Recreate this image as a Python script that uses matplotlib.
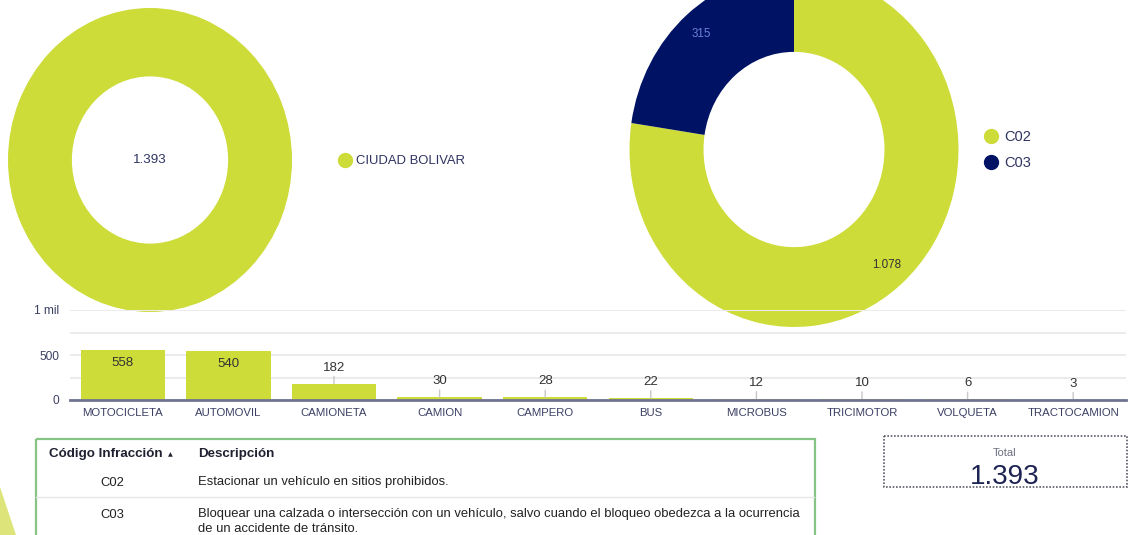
import matplotlib
matplotlib.use("Agg")
import matplotlib.pyplot as plt
from matplotlib.lines import Line2D
from matplotlib.patches import Rectangle, Polygon

plt.rcParams['font.family'] = ['Liberation Sans', 'DejaVu Sans']

# ---------------- data ----------------
localidades = ["CIUDAD BOLIVAR"]
localidad_values = [1393]

codigos = ["C02", "C03"]
codigo_values = [1078, 315]

vehiculos = ["MOTOCICLETA", "AUTOMOVIL", "CAMIONETA", "CAMION", "CAMPERO",
             "BUS", "MICROBUS", "TRICIMOTOR", "VOLQUETA", "TRACTOCAMION"]
vehiculo_values = [558, 540, 182, 30, 28, 22, 12, 10, 6, 3]

y_ticks = [0, 500, 1000]
y_tick_labels = ["0", "500", "1 mil"]

tabla_codigos = ["C02", "C03"]
tabla_descripciones = [
    "Estacionar un vehículo en sitios prohibidos.",
    "Bloquear una calzada o intersección con un vehículo, salvo cuando el bloqueo obedezca a la ocurrencia\nde un accidente de tránsito.",
]
tabla_headers = ["Código Infracción", "Descripción"]
total_label = "Total"

# ---------------- style ----------------
LIME = "#cddc39"
NAVY = "#001264"
TXT = "#2f3360"
W, H = 1128, 535


def fmt(v):
    return f"{v:,}".replace(",", ".")


def rect(x0, y0, x1, y1):
    return [x0 / W, 1 - y1 / H, (x1 - x0) / W, (y1 - y0) / H]


fig = plt.figure(figsize=(W / 100, H / 100), dpi=100)
fig.patch.set_facecolor("white")

# ---------------- left donut ----------------
axL = fig.add_axes(rect(8, 8, 292, 312))
axL.pie(localidad_values, colors=[LIME], startangle=90, counterclock=False,
        radius=1, wedgeprops=dict(width=0.45, edgecolor="none"))
axL.set_aspect("auto")
axL.set_xlim(-1, 1)
axL.set_ylim(-1, 1)
axL.axis("off")
axL.text(0, 0, fmt(sum(localidad_values)), ha="center", va="center",
         fontsize=9.6, color=TXT)

fig.legend(handles=[Line2D([], [], marker="o", linestyle="", color=LIME, markersize=10)],
           labels=localidades, loc="center left",
           bbox_to_anchor=(338 / W, 1 - 161 / H), frameon=False,
           borderpad=0, borderaxespad=0, handlelength=1.0, handletextpad=0.4,
           fontsize=9.4, labelcolor=TXT)

# ---------------- right donut ----------------
axR = fig.add_axes(rect(629.5, -28, 958.5, 327))
wedges, texts = axR.pie(codigo_values, colors=[LIME, NAVY], startangle=90,
                        counterclock=False, radius=1,
                        labels=[fmt(v) for v in codigo_values],
                        labeldistance=0.86,
                        wedgeprops=dict(width=0.45, edgecolor="none"),
                        textprops=dict(fontsize=8.4))
texts[0].set_color("#333333")
texts[1].set_color("#6f7fd6")
for t in texts:
    t.set_ha("center")
    t.set_va("center")
axR.set_aspect("auto")
axR.set_xlim(-1, 1)
axR.set_ylim(-1, 1)
axR.axis("off")

fig.legend(handles=[Line2D([], [], marker="o", linestyle="", color=c, markersize=10)
                    for c in [LIME, NAVY]],
           labels=codigos, loc="center left",
           bbox_to_anchor=(983.5 / W, 1 - 150 / H), frameon=False,
           borderpad=0, borderaxespad=0, handlelength=1.0, handletextpad=0.4,
           labelspacing=0.85, fontsize=10.5, labelcolor=TXT)

# ---------------- bar chart ----------------
axB = fig.add_axes(rect(70, 310, 1126, 400))
axB.patch.set_alpha(0)
x = list(range(len(vehiculos)))
axB.bar(x, vehiculo_values, width=0.8, color=LIME, zorder=2)
axB.set_xlim(-0.5, len(vehiculos) - 0.5)
axB.set_ylim(0, 1000)
axB.set_yticks(y_ticks)
axB.set_yticklabels(y_tick_labels)
axB.set_yticks([250, 750], minor=True)
axB.grid(axis="y", which="both", color="#ebebeb", lw=1.5, zorder=0)
axB.set_axisbelow(True)
axB.set_xticks(x)
axB.set_xticklabels(vehiculos)
axB.tick_params(axis="x", length=0, pad=6, labelsize=8.2, labelcolor="#3b3f63")
axB.tick_params(axis="y", which="both", length=0, pad=8, labelsize=8.6, labelcolor="#3b3f63")
for s in ["top", "right", "left"]:
    axB.spines[s].set_visible(False)
axB.spines["bottom"].set_color("#70738f")
axB.spines["bottom"].set_linewidth(2)
axB.spines["bottom"].set_zorder(3)

for i, v in enumerate(vehiculo_values):
    if v > 300:
        axB.annotate(str(v), xy=(i, v), xytext=(0, -13), textcoords="offset pixels",
                     ha="center", va="center", fontsize=9.5, color="#333333")
    else:
        axB.annotate(str(v), xy=(i, v), xytext=(0, 16), textcoords="offset pixels",
                     ha="center", va="center", fontsize=9.5, color="#333333",
                     arrowprops=dict(arrowstyle="-", color="#c8c8c8", lw=1,
                                     shrinkA=0, shrinkB=0))

# ---------------- overlay (table / total / decoration) ----------------
ov = fig.add_axes([0, 0, 1, 1], zorder=-1)
ov.set_xlim(0, W)
ov.set_ylim(H, 0)
ov.axis("off")
ov.add_patch(Polygon([(0, 487), (16, H), (0, H)], closed=True,
                     facecolor="#dde57a", edgecolor="none"))

ov2 = fig.add_axes([0, 0, 1, 1], zorder=5)
ov2.set_xlim(0, W)
ov2.set_ylim(H, 0)
ov2.axis("off")
ov2.patch.set_alpha(0)

ov2.add_patch(Rectangle((35.5, 438.5), 779, 120, fill=False,
                        edgecolor="#86c486", lw=1.6, clip_on=True))
ov2.text(49, 454.5, tabla_headers[0], ha="left", va="center", fontsize=9.6,
         fontweight="bold", color="#1f2030")
ov2.text(170, 454.5, "▲", ha="center", va="center", fontsize=4.5, color="#1f2030",
         family=["DejaVu Sans"])
ov2.text(198, 454.5, tabla_headers[1], ha="left", va="center", fontsize=9.6,
         fontweight="bold", color="#1f2030")
row_y = [482.5, 514.5]
for j, (c, d) in enumerate(zip(tabla_codigos, tabla_descripciones)):
    ov2.text(112, row_y[j], c, ha="center", va="center", fontsize=9.4,
             color="#222222")
    if "\n" in d:
        ov2.text(198, row_y[j] - 7, d, ha="left", va="top", fontsize=9.4,
                 color="#222222", linespacing=1.35)
    else:
        ov2.text(198, row_y[j], d, ha="left", va="center", fontsize=9.4,
                 color="#222222")
ov2.plot([36, 814], [497, 497], color="#e6e6e6", lw=1)

# total card
ov2.add_patch(Rectangle((883.5, 435.5), 243, 51, fill=False, edgecolor="#5a5a66",
                        lw=1.2, linestyle=(0, (1, 1))))
ov2.text(1005, 453, total_label, ha="center", va="center", fontsize=8,
         color="#6b6f80")
ov2.text(1005, 477, fmt(sum(codigo_values)), ha="center", va="center",
         fontsize=20, color="#1d2453")

fig.savefig("out.png", dpi=100, facecolor="white")
